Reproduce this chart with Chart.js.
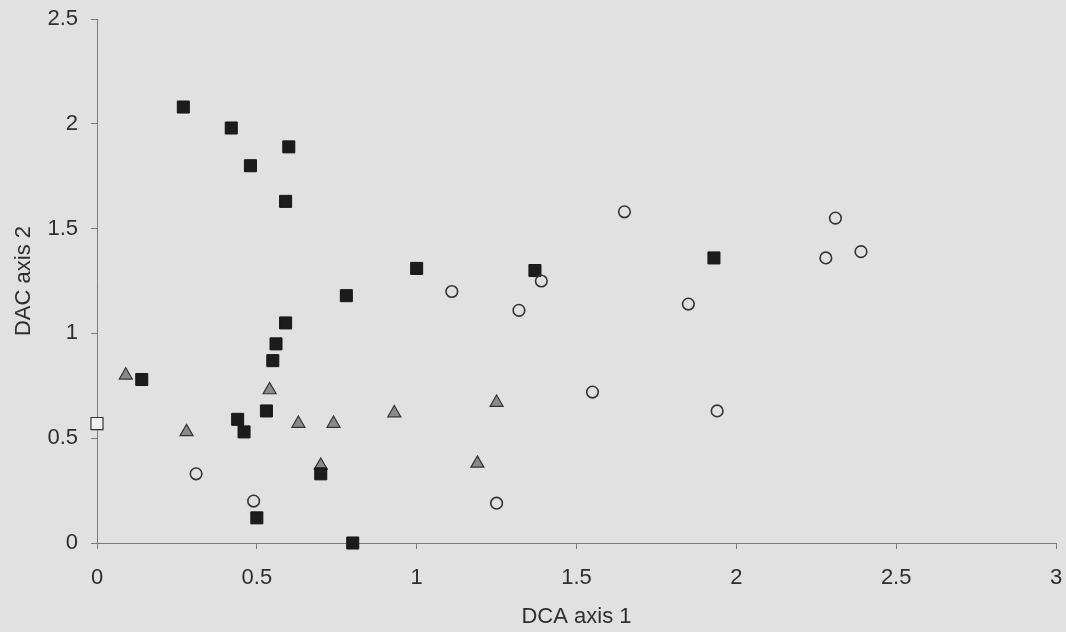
<!DOCTYPE html>
<html>
<head>
<meta charset="UTF-8">
<title>DCA ordination</title>
<script src="https://cdn.jsdelivr.net/npm/chart.js@4.4.1/dist/chart.umd.min.js"></script>
<style>
  html, body { margin: 0; padding: 0; background: #e1e1e1; }
  #wrap { width: 1066px; height: 632px; }
</style>
</head>
<body>
<div id="wrap"><canvas id="myChart" width="1066" height="632"></canvas></div>
<script>
// values
var squaresX = [0.27, 0.42, 0.60, 0.48, 0.59, 1.00, 0.78, 1.37, 1.93, 0.59, 0.56, 0.55, 0.14, 0.44, 0.46, 0.53, 0.70, 0.50, 0.80];
var squaresY = [2.08, 1.98, 1.89, 1.80, 1.63, 1.31, 1.18, 1.30, 1.36, 1.05, 0.95, 0.87, 0.78, 0.59, 0.53, 0.63, 0.33, 0.12, 0.00];

var trianglesX = [0.09, 0.28, 0.54, 0.63, 0.74, 0.70, 0.93, 1.19, 1.25];
var trianglesY = [0.80, 0.53, 0.73, 0.57, 0.57, 0.37, 0.62, 0.38, 0.67];

var circlesX = [0.31, 0.49, 1.25, 1.55, 1.94, 1.11, 1.32, 1.39, 1.65, 1.85, 2.28, 2.31, 2.39];
var circlesY = [0.33, 0.20, 0.19, 0.72, 0.63, 1.20, 1.11, 1.25, 1.58, 1.14, 1.36, 1.55, 1.39];

var openSquareX = [0.00];
var openSquareY = [0.57];

var xTickLabels = ['0', '0.5', '1', '1.5', '2', '2.5', '3'];
var yTickLabels = ['0', '0.5', '1', '1.5', '2', '2.5'];
var tickStep = 0.5;

function pts(xs, ys) {
  return xs.map(function (x, i) { return { x: x, y: ys[i] }; });
}
function labelFrom(list) {
  return function (value) {
    var i = Math.round(value / tickStep);
    return list[i] !== undefined ? list[i] : '';
  };
}

var FONT = "'Liberation Sans', Arial, sans-serif";
var INK = '#2e2e2e';
var AXIS = '#7a7a7a';

var bgPlugin = {
  id: 'bg',
  beforeDraw: function (chart) {
    var ctx = chart.ctx;
    ctx.save();
    ctx.fillStyle = '#e1e1e1';
    ctx.fillRect(0, 0, chart.width, chart.height);
    ctx.restore();
  }
};

new Chart(document.getElementById('myChart'), {
  type: 'scatter',
  data: {
    datasets: [
      {
        label: 'circles',
        data: pts(circlesX, circlesY),
        pointStyle: 'circle',
        pointRadius: 5.8,
        borderWidth: 1.6,
        borderColor: '#333333',
        backgroundColor: 'rgba(0,0,0,0)',
        clip: false,
        order: 1
      },
      {
        label: 'squares',
        data: pts(squaresX, squaresY),
        pointStyle: 'rect',
        pointRadius: 8.5,
        borderWidth: 1,
        borderColor: '#161616',
        backgroundColor: '#1c1c1c',
        clip: false,
        order: 2
      },
      {
        label: 'open square',
        data: pts(openSquareX, openSquareY),
        pointStyle: 'rect',
        pointRadius: 8.5,
        borderWidth: 1.2,
        borderColor: '#333333',
        backgroundColor: '#f2f2f2',
        clip: false,
        order: 2
      },
      {
        label: 'triangles',
        data: pts(trianglesX, trianglesY),
        pointStyle: 'triangle',
        pointRadius: 7.5,
        borderWidth: 1.2,
        borderColor: '#333333',
        backgroundColor: '#8a8a8a',
        clip: false,
        order: 3
      }
    ]
  },
  options: {
    responsive: false,
    animation: false,
    layout: { padding: { top: 19, right: 10, left: 0, bottom: 0 } },
    plugins: {
      legend: { display: false },
      tooltip: { enabled: false }
    },
    scales: {
      x: {
        type: 'linear',
        min: 0,
        max: 3,
        // fixed axis band; drop the label overhang padding so the plot reaches x = 3 at the right edge
        afterFit: function (s) { s.height = 89; s.paddingLeft = 0; s.paddingRight = 0; },
        ticks: {
          stepSize: tickStep,
          color: INK,
          padding: 16,
          maxRotation: 0,
          callback: labelFrom(xTickLabels),
          font: { family: FONT, size: 22 }
        },
        grid: { drawOnChartArea: false, tickLength: 6, color: AXIS, tickColor: AXIS },
        border: { display: true, color: AXIS, width: 1 },
        title: {
          display: true,
          text: 'DCA axis 1',
          color: INK,
          font: { family: FONT, size: 22 },
          padding: { top: 0, bottom: 2 }
        }
      },
      y: {
        type: 'linear',
        min: 0,
        max: 2.5,
        afterFit: function (s) { s.width = 97; s.paddingTop = 0; s.paddingBottom = 0; },
        ticks: {
          stepSize: tickStep,
          color: INK,
          padding: 13,
          callback: labelFrom(yTickLabels),
          font: { family: FONT, size: 22 }
        },
        grid: { drawOnChartArea: false, tickLength: 6, color: AXIS, tickColor: AXIS },
        border: { display: true, color: AXIS, width: 1 },
        title: {
          display: true,
          text: 'DAC axis 2',
          color: INK,
          font: { family: FONT, size: 22 },
          padding: { top: 11, bottom: 0 }
        }
      }
    }
  },
  plugins: [bgPlugin]
});
</script>
</body>
</html>
